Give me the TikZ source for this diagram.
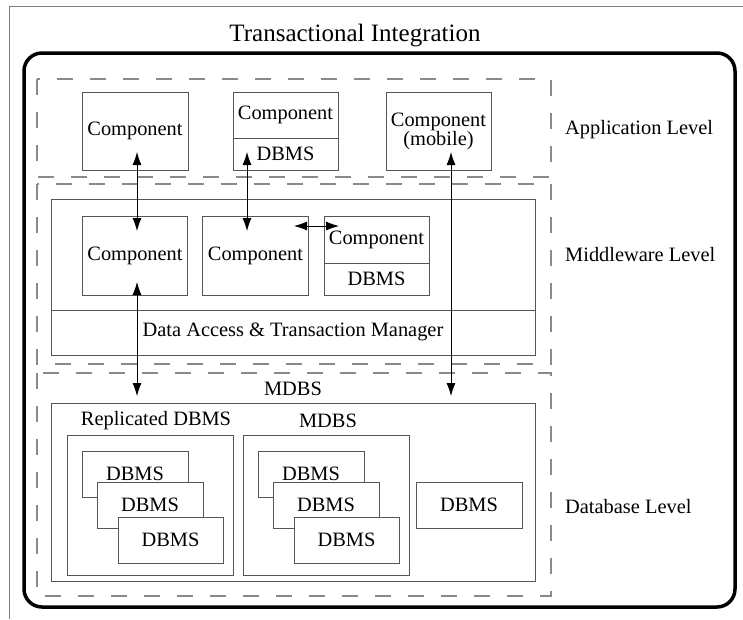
\documentclass[tikz,border=0pt]{standalone}
\usepackage{fontspec}
\setmainfont{Liberation Serif}
\usetikzlibrary{arrows.meta}
\definecolor{boxline}{HTML}{555555}
\definecolor{dashline}{HTML}{8A8A8A}
\tikzset{
  box/.style={draw=boxline, line width=0.9pt, fill=white, inner sep=0pt, align=center, font=\fontsize{20.4}{22}\selectfont},
  dashbox/.style={draw=dashline, line width=1.2pt, dash pattern=on 16pt off 17pt},
  frame/.style={draw=black, line width=3.5pt, rounded corners=18pt},
  lbl/.style={inner sep=0pt, font=\fontsize{20.4}{22}\selectfont},
  biarrow/.style={line width=0.8pt, {Latex[length=13pt,width=9pt]}-{Latex[length=13pt,width=9pt]}},
}
\begin{document}
\begin{tikzpicture}[x=1pt,y=-1pt]
\useasboundingbox (0,0) rectangle (743,619);
% outer thin frame
\draw[draw=gray, line width=1pt] (9,619) -- (9,6) -- (743,6);
% title
\node[lbl, font=\fontsize{25}{28}\selectfont] (title) at (355,36) {Transactional Integration};
% thick frame
\draw[frame] (24,53) rectangle (735,607);
% dashed levels
\draw[dashbox] (37,79) rectangle (551,177);
\draw[dashbox] (37,184) rectangle (551,364);
\draw[dashbox] (37,373) rectangle (551,596);
% level labels
\node[lbl, anchor=west] (applbl) at (565,130) {Application Level};
\node[lbl, anchor=west] (mwlbl) at (565,255) {Middleware Level};
\node[lbl, anchor=west] (dblbl) at (565,507) {Database Level};

% application level
\node[box, minimum width=106pt, minimum height=78pt] (ac1) at (135,131) {Component};
\node[box, minimum width=105pt, minimum height=46pt] (ac2) at (285.5,115) {Component};
\node[box, minimum width=105pt, minimum height=32pt] (ad2) at (285.5,154) {DBMS};
\node[box, minimum width=105pt, minimum height=78pt] (ac3) at (438.5,131) {Component\\[-3pt](mobile)};

% middleware level
\node[box, minimum width=484pt, minimum height=156pt] (mw) at (293,277) {};
\draw[draw=boxline, line width=0.9pt] (mw.west |- 0,310) -- (mw.east |- 0,310);
\node[lbl] (dam) at (293,332) {Data Access \& Transaction Manager};
\node[box, minimum width=105pt, minimum height=79pt] (mc1) at (135,255.5) {Component};
\node[box, minimum width=106pt, minimum height=79pt] (mc2) at (255.5,255.5) {Component};
\node[box, minimum width=105pt, minimum height=47pt] (mc3) at (376.5,240) {Component};
\node[box, minimum width=105pt, minimum height=32pt] (md3) at (376.5,279) {DBMS};

% database level
\node[lbl] (mdbs) at (293,389) {MDBS};
\node[box, minimum width=484pt, minimum height=178pt] (db) at (293,492) {};
\node[lbl] (replbl) at (156,421) {Replicated DBMS};
\node[box, minimum width=166pt, minimum height=140pt] (rep) at (150,505) {};
\node[box, minimum width=106pt, minimum height=46pt] (r1) at (135,474) {DBMS};
\node[box, minimum width=106pt, minimum height=46pt] (r2) at (150,505) {DBMS};
\node[box, minimum width=105pt, minimum height=46pt] (r3) at (170.5,540) {DBMS};
\node[lbl] (mdbslbl) at (328,421) {MDBS};
\node[box, minimum width=166pt, minimum height=140pt] (mdb) at (326,505) {};
\node[box, minimum width=106pt, minimum height=46pt] (m1) at (311,474) {DBMS};
\node[box, minimum width=106pt, minimum height=46pt] (m2) at (326,505) {DBMS};
\node[box, minimum width=105pt, minimum height=46pt] (m3) at (346.5,540) {DBMS};
\node[box, minimum width=106pt, minimum height=46pt] (sd) at (469,505) {DBMS};

% arrow end points
\coordinate (a1t) at (137,152);
\coordinate (a1b) at (137,231);
\coordinate (a4t) at (137,282);
\coordinate (a4b) at (137,396);
\coordinate (a2t) at (247,152);
\coordinate (a2b) at (247,231);
\coordinate (hl) at (294,226);
\coordinate (hr) at (339,226);
\coordinate (a3t) at (451,152);
\coordinate (a3b) at (451,396);

\draw[biarrow] (a1t) -- (a1b);
\draw[biarrow] (a4t) -- (a4b);
\draw[biarrow] (a2t) -- (a2b);
\draw[biarrow] (hl) -- (hr);
\draw[biarrow] (a3t) -- (a3b);
\end{tikzpicture}
\end{document}
